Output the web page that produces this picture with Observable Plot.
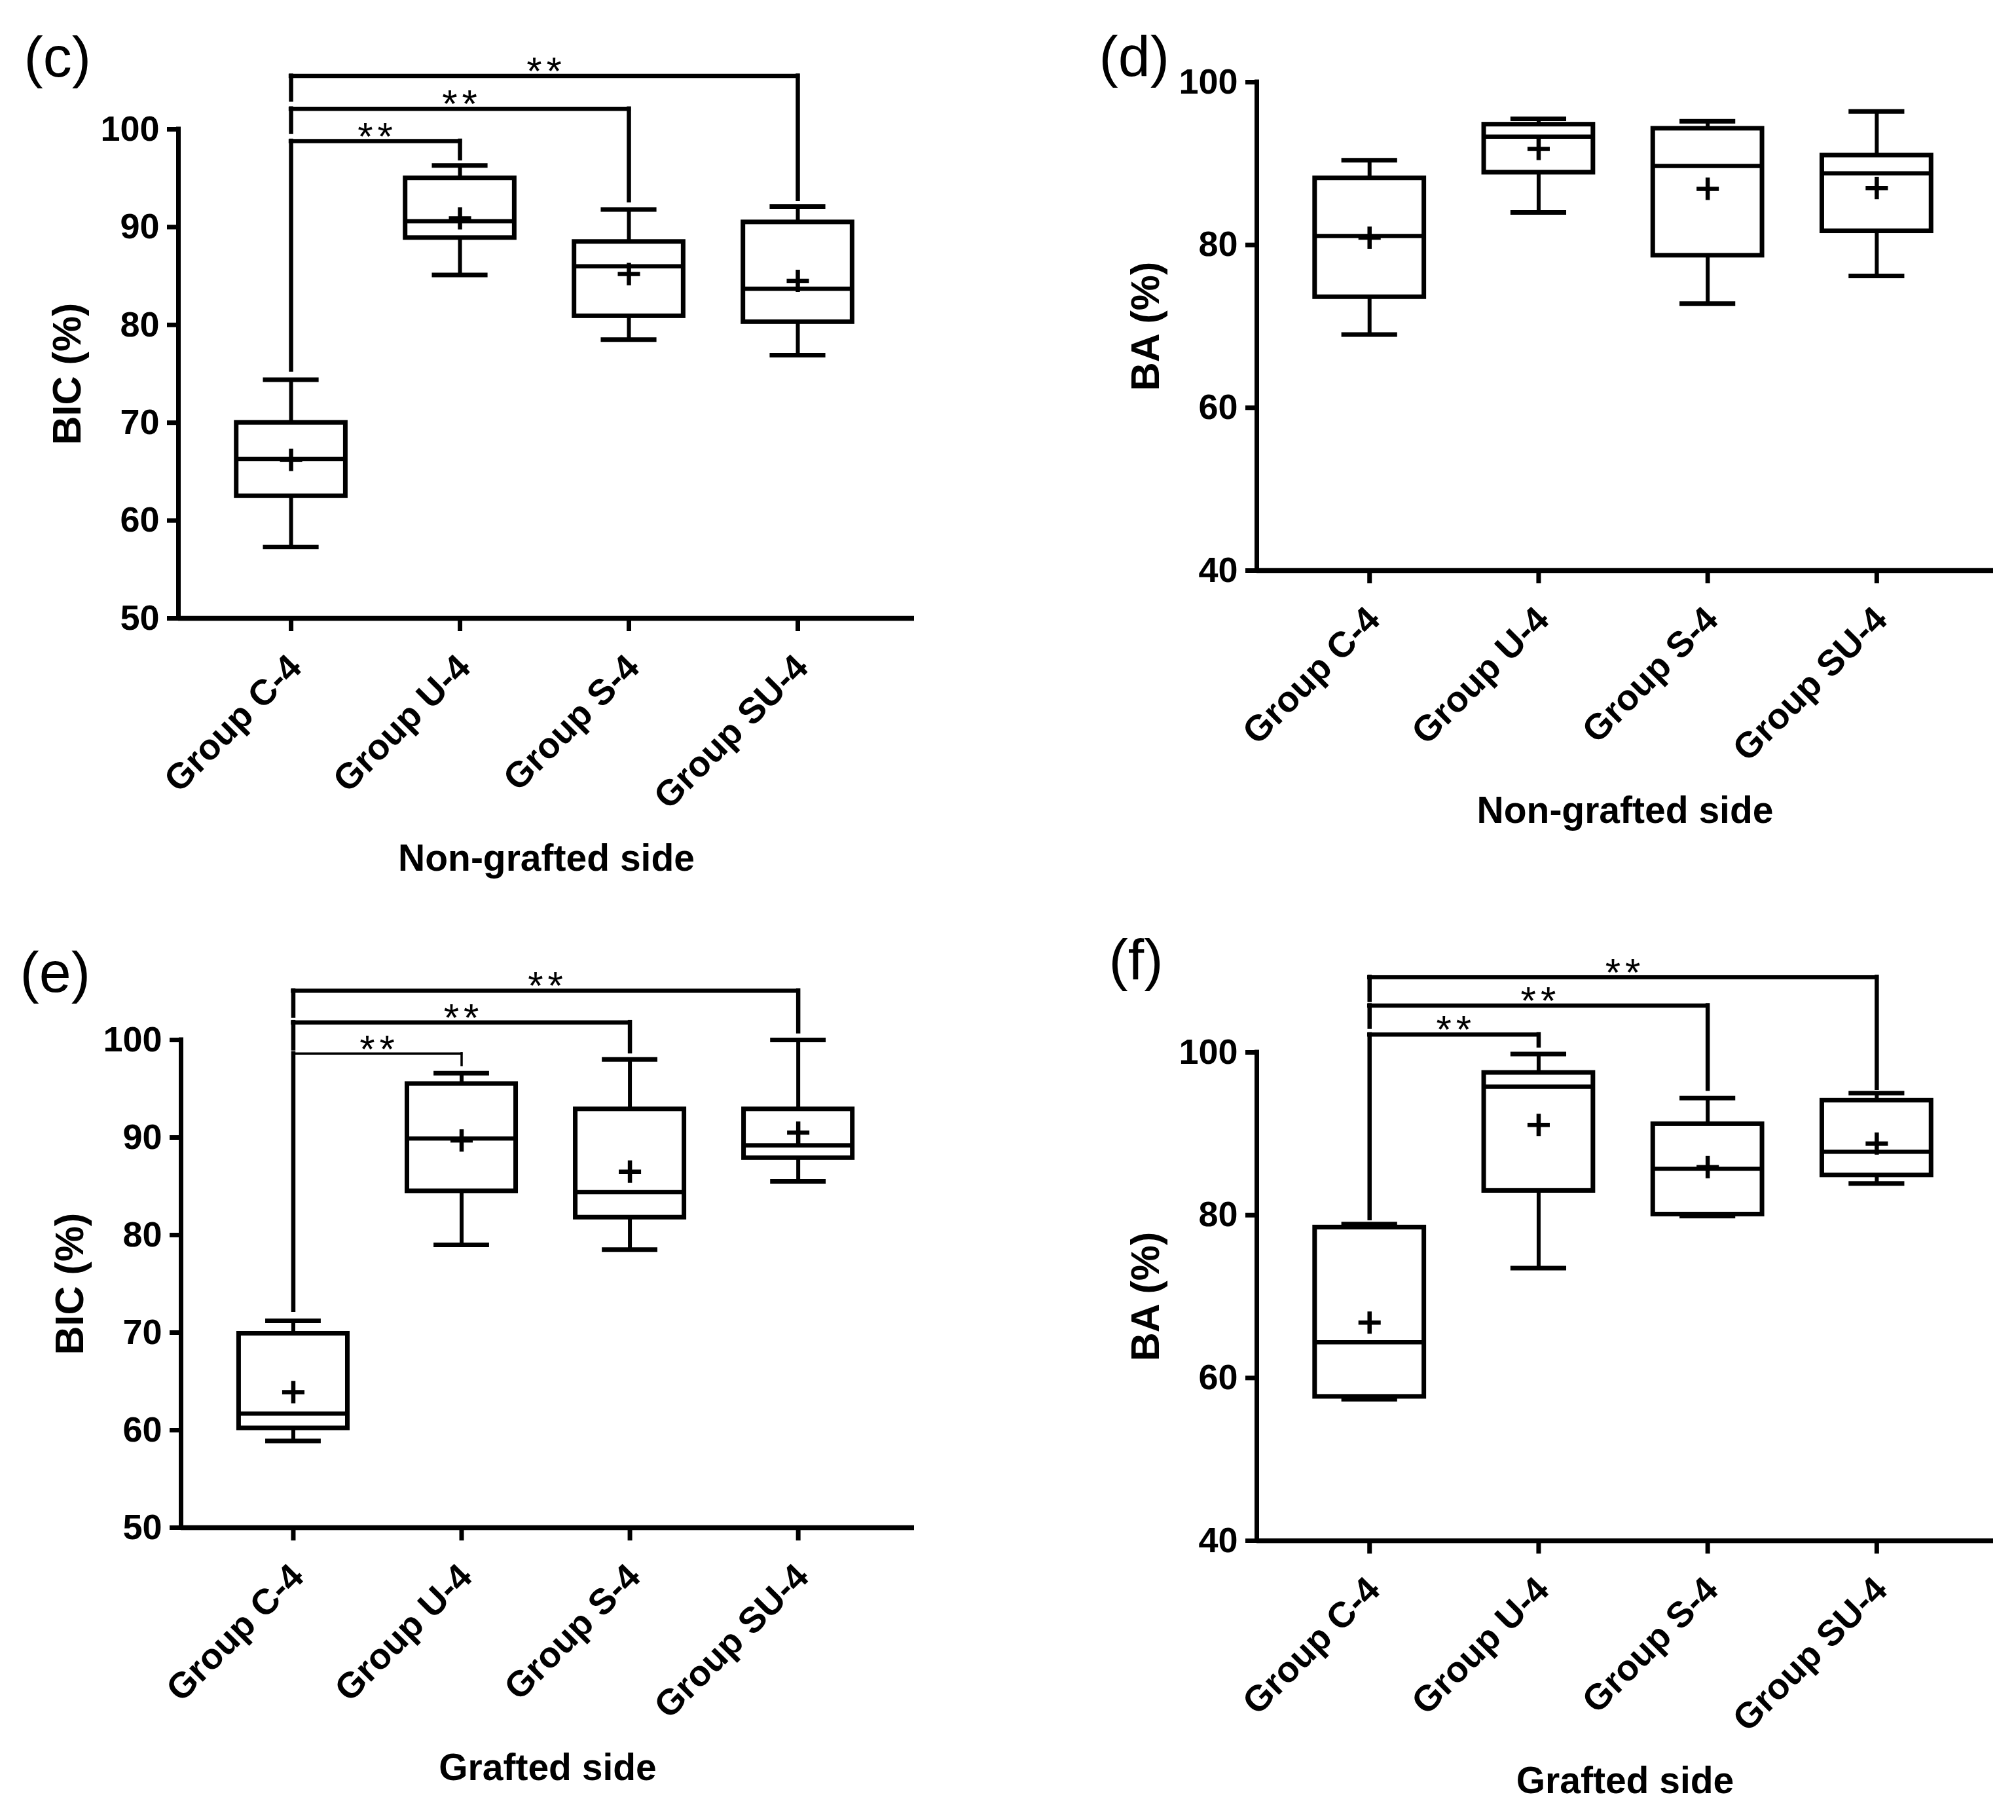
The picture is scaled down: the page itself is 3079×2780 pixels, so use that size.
<!DOCTYPE html>
<html>
<head>
<meta charset="utf-8">
<script src="https://cdn.jsdelivr.net/npm/d3@7"></script>
<script src="https://cdn.jsdelivr.net/npm/@observablehq/plot@0.6"></script>
<style>
  html, body { margin: 0; padding: 0; background: #ffffff; }
  #fig { position: relative; width: 3079px; height: 2780px; background: #ffffff; overflow: hidden; }
  .panel { position: absolute; }
  .stars text { letter-spacing: 7px; }
</style>
</head>
<body>
<div id="fig"></div>
<script>
// ---------------- DATA ----------------
const groups = ["Group C-4", "Group U-4", "Group S-4", "Group SU-4"];

// (c) BIC, non-grafted side
const cMin    = [57.3, 85.1, 78.5, 76.9];
const cQ1     = [62.5, 88.9, 80.9, 80.3];
const cMedian = [66.3, 90.6, 86.0, 83.7];
const cQ3     = [70.0, 95.0, 88.5, 90.5];
const cMax    = [74.4, 96.3, 91.8, 92.1];
const cMean   = [66.2, 90.9, 85.2, 84.5];

// (d) BA, non-grafted side
const dMin    = [69.0, 84.0, 72.8, 76.2];
const dQ1     = [73.6, 88.9, 78.7, 81.7];
const dMedian = [81.1, 93.3, 89.7, 88.8];
const dQ3     = [88.2, 94.8, 94.3, 91.0];
const dMax    = [90.4, 95.5, 95.2, 96.4];
const dMean   = [80.9, 91.8, 86.9, 87.0];

// (e) BIC, grafted side
const eMin    = [58.9, 79.0, 78.5, 85.5];
const eQ1     = [60.2, 84.5, 81.8, 87.9];
const eMedian = [61.7, 89.9, 84.4, 89.2];
const eQ3     = [69.9, 95.5, 92.9, 92.9];
const eMax    = [71.2, 96.6, 98.0, 100.0];
const eMean   = [63.9, 89.7, 86.5, 90.5];

// (f) BA, grafted side
const fMin    = [57.4, 73.5, 79.9, 83.9];
const fQ1     = [57.7, 83.0, 80.1, 84.9];
const fMedian = [64.4, 95.8, 85.7, 87.8];
const fQ3     = [78.5, 97.5, 91.2, 94.1];
const fMax    = [78.9, 99.8, 94.4, 95.0];
const fMean   = [66.8, 91.1, 85.9, 88.8];

// significance brackets: Group C-4 (1) compared with group "to"
const bracketTo    = [2, 3, 4];
const bracketLabel = ["**", "**", "**"];
const cBracketLevel = [98.8, 102.1, 105.45];
const cBracketLeft  = [75.4, 99.7, 103.0];
const cBracketRight = [97.0, 92.7, 92.85];
const eBracketLevel = [98.6, 101.8, 105.05];
const eBracketLeft  = [72.3, 99.1, 102.45];
const eBracketRight = [97.4, 98.8, 100.85];
const fBracketLevel = [102.2, 105.75, 109.25];
const fBracketLeft  = [79.6, 103.1, 106.4];
const fBracketRight = [100.8, 95.5, 95.6];

// axes
const bicTicks = [50, 60, 70, 80, 90, 100];
const baTicks  = [40, 60, 80, 100];
const bicDomain = [50, 100];
const baDomain  = [40, 100];
const xDomain = [0.333, 4.69];

// ---------------- LAYOUT / STYLE ----------------
const FONT = "'Liberation Sans', Arial, Helvetica, sans-serif";
const boxHalf = 0.323, capHalf = 0.165;

function rowsOf(min, q1, med, q3, max, mean) {
  return groups.map((g, k) => ({i: k + 1, group: g, min: min[k], q1: q1[k], median: med[k], q3: q3[k], max: max[k], mean: mean[k]}));
}
function bracketsOf(level, left, right) {
  if (!level) return [];
  return bracketTo.map((t, k) => ({from: 1, to: t, level: level[k], left: left[k], right: right[k], label: bracketLabel[k], k}));
}

const panels = [
  {letter: "(c)", left: 0, top: 0, width: 1540, height: 1390, mL: 272, mR: 144, mT: 197, mB: 446,
   yDomain: bicDomain, yTicks: bicTicks, yLabel: "BIC (%)", xLabel: "Non-grafted side",
   rows: rowsOf(cMin, cQ1, cMedian, cQ3, cMax, cMean), brackets: bracketsOf(cBracketLevel, cBracketLeft, cBracketRight),
   letterDx: -236, letterDy: -81, bw: [6.5, 6.5, 6.5]},
  {letter: "(d)", left: 1540, top: 0, width: 1539, height: 1390, mL: 379, mR: 35, mT: 125, mB: 519,
   yDomain: baDomain, yTicks: baTicks, yLabel: "BA (%)", xLabel: "Non-grafted side",
   rows: rowsOf(dMin, dQ1, dMedian, dQ3, dMax, dMean), brackets: [],
   letterDx: -241, letterDy: -10, bw: [6.5, 6.5, 6.5]},
  {letter: "(e)", left: 0, top: 1390, width: 1540, height: 1390, mL: 276, mR: 144, mT: 198, mB: 447,
   yDomain: bicDomain, yTicks: bicTicks, yLabel: "BIC (%)", xLabel: "Grafted side",
   rows: rowsOf(eMin, eQ1, eMedian, eQ3, eMax, eMean), brackets: bracketsOf(eBracketLevel, eBracketLeft, eBracketRight),
   letterDx: -246, letterDy: -74, bw: [3.5, 6.5, 6.5]},
  {letter: "(f)", left: 1540, top: 1390, width: 1539, height: 1390, mL: 379, mR: 35, mT: 217, mB: 427,
   yDomain: baDomain, yTicks: baTicks, yLabel: "BA (%)", xLabel: "Grafted side",
   rows: rowsOf(fMin, fQ1, fMedian, fQ3, fMax, fMean), brackets: bracketsOf(fBracketLevel, fBracketLeft, fBracketRight),
   letterDx: -226, letterDy: -112, bw: [6.5, 6.5, 6.5]}
];

const fig = document.getElementById("fig");

for (const p of panels) {
  const rows = p.rows, br = p.brackets;
  const chart = Plot.plot({
    width: p.width,
    height: p.height,
    marginLeft: p.mL, marginRight: p.mR, marginTop: p.mT, marginBottom: p.mB,
    style: {fontFamily: FONT, color: "black", background: "white", overflow: "visible"},
    x: {domain: xDomain, axis: null},
    y: {domain: p.yDomain, axis: null},
    marks: [
      // axes
      Plot.axisY({ticks: p.yTicks, tickSize: 17, tickPadding: 12, strokeWidth: 7, fontSize: 54, fontWeight: "bold", label: null, tickFormat: d => String(d)}),
      Plot.axisX({ticks: [1, 2, 3, 4], tickSize: 20, strokeWidth: 7, tickFormat: () => "", label: null}),
      Plot.ruleY([p.yDomain[0]], {strokeWidth: 7.5}),
      Plot.ruleX([xDomain[0]], {y1: p.yDomain[0], y2: p.yDomain[1], strokeWidth: 7, strokeLinecap: "square"}),
      // rotated category labels
      Plot.text(rows, {x: "i", text: "group", frameAnchor: "bottom", rotate: -45, textAnchor: "end", lineAnchor: "bottom",
        dx: 19, dy: 78, fontSize: 55, fontWeight: "bold", fill: "black"}),
      // whiskers
      Plot.ruleX(rows, {x: "i", y1: "min", y2: "q1", strokeWidth: 6}),
      Plot.ruleX(rows, {x: "i", y1: "q3", y2: "max", strokeWidth: 6}),
      Plot.ruleY(rows, {y: "min", x1: d => d.i - capHalf, x2: d => d.i + capHalf, strokeWidth: 7}),
      Plot.ruleY(rows, {y: "max", x1: d => d.i - capHalf, x2: d => d.i + capHalf, strokeWidth: 7}),
      // boxes
      Plot.rect(rows, {x1: d => d.i - boxHalf, x2: d => d.i + boxHalf, y1: "q1", y2: "q3", fill: "white", stroke: "black", strokeWidth: 7}),
      Plot.ruleY(rows, {y: "median", x1: d => d.i - boxHalf, x2: d => d.i + boxHalf, strokeWidth: 6.5}),
      // means
      Plot.dot(rows, {x: "i", y: "mean", symbol: "plus", r: 11, stroke: "black", strokeWidth: 6.5}),
      // significance brackets
      Plot.ruleY(br, {y: "level", x1: "from", x2: "to", strokeWidth: d => p.bw[d.k], strokeLinecap: "square"}),
      Plot.ruleX(br, {x: "from", y1: "left", y2: "level", strokeWidth: 6.5, strokeLinecap: "square"}),
      Plot.ruleX(br, {x: "to", y1: "right", y2: "level", strokeWidth: d => p.bw[d.k], strokeLinecap: "square"}),
      Plot.text(br, {x: d => (d.from + d.to) / 2, y: "level", text: "label", dy: -6, dx: 3, fontSize: 60, fill: "black", className: "stars"}),
      // titles
      Plot.text([p.yLabel], {frameAnchor: "left", rotate: -90, textAnchor: "middle", lineAnchor: "bottom", dx: -150,
        fontSize: 61, fontWeight: "bold", fill: "black"}),
      Plot.text([p.xLabel], {frameAnchor: "bottom", textAnchor: "middle", lineAnchor: "bottom", dy: 385,
        fontSize: 57, fontWeight: "bold", fill: "black"}),
      Plot.text([p.letter], {frameAnchor: "top-left", textAnchor: "start", lineAnchor: "bottom", dx: p.letterDx, dy: p.letterDy,
        fontSize: 88, fill: "black"})
    ]
  });
  const wrap = document.createElement("div");
  wrap.className = "panel";
  wrap.style.left = p.left + "px";
  wrap.style.top = p.top + "px";
  wrap.appendChild(chart);
  fig.appendChild(wrap);
}
</script>
</body>
</html>
